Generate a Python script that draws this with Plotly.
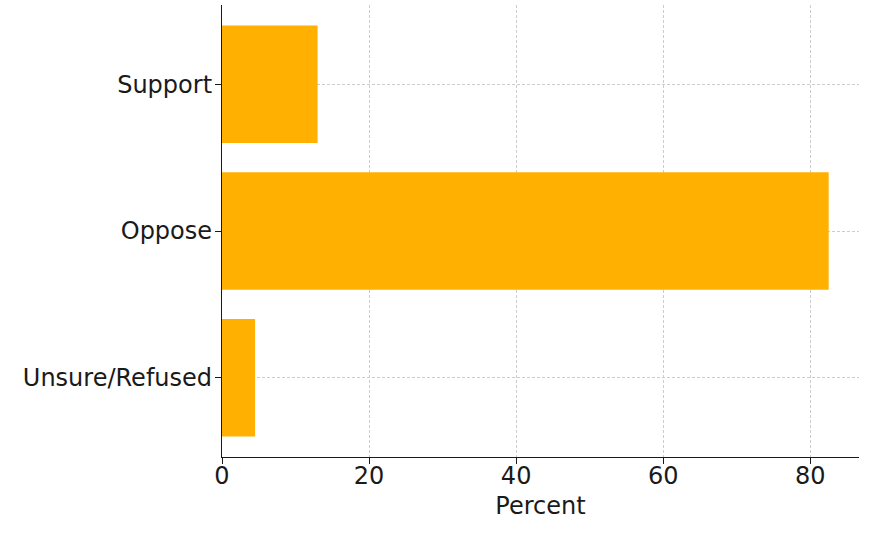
import plotly.graph_objects as go

categories = ["Support", "Oppose", "Unsure/Refused"]
values = [13.0, 82.5, 4.5]
x_ticks = [0, 20, 40, 60, 80]

fig = go.Figure(go.Bar(
    x=values, y=categories, orientation="h", width=0.8,
    marker=dict(color="#FFB000", line=dict(width=0)),
))

font = dict(family="DejaVu Sans", size=24, color="#1a1a1a")
grid = dict(showgrid=True, gridcolor="#cccccc", griddash="3px,2px", gridwidth=0.8)
fig.update_layout(
    width=880, height=546,
    margin=dict(l=222, r=21, t=5, b=89, autoexpand=False),
    paper_bgcolor="white", plot_bgcolor="white",
    font=font, showlegend=False,
    xaxis=dict(
        range=[0, 86.625], tickvals=x_ticks, ticks="outside", ticklen=6,
        tickcolor="#1a1a1a", tickwidth=1.2, ticklabelstandoff=-9,
        showline=True, linecolor="#1a1a1a", linewidth=1.3,
        zeroline=False, **grid,
        title=dict(text="Percent", standoff=8, font=font),
    ),
    yaxis=dict(
        categoryorder="array", categoryarray=categories[::-1],
        range=[-0.54, 2.54], ticks="outside", ticklen=6,
        tickcolor="#1a1a1a", tickwidth=1.2, ticklabelstandoff=-2,
        showline=True, linecolor="#1a1a1a", linewidth=1.3,
        zeroline=False, **grid,
    ),
)

fig.write_html("out.html", config={"displayModeBar": False},
               post_script="document.body.style.margin='0';")
